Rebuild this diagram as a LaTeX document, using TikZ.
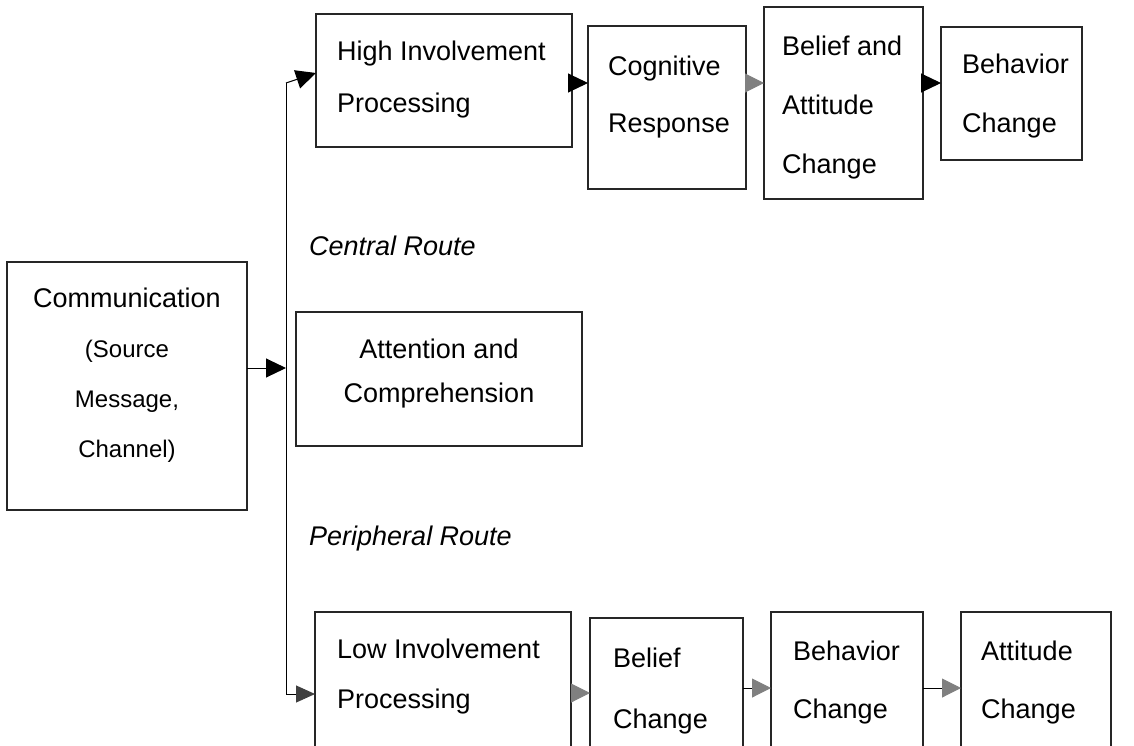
\documentclass[tikz,border=0pt]{standalone}
\usepackage{fontspec}
\setmainfont{Liberation Sans}
\usetikzlibrary{arrows.meta}

% Stacked lines with a fixed baseline distance; the baseline of the box is the first line's.
\newcommand\linesleft[2]{\vtop{\baselineskip=#1\lineskiplimit=-100pt\lineskip=0pt\halign{##\hfil\cr#2\crcr}}}
\newcommand\linescentre[2]{\vtop{\baselineskip=#1\lineskiplimit=-100pt\lineskip=0pt\halign{\hfil##\hfil\cr#2\crcr}}}

\tikzset{
  box/.style={draw=black!85, line width=1.2pt, inner sep=0pt, outer sep=0pt, anchor=north west},
  lbl/.style={inner sep=0pt, anchor=base west, font=\fontsize{27}{27}\selectfont},
  clbl/.style={inner sep=0pt, anchor=base, font=\fontsize{27}{27}\selectfont},
  conn/.style={draw=black, line width=1pt},
  darkhead/.style={-{Triangle[length=20pt,width=19pt,color=black]}},
  greyhead/.style={-{Triangle[length=19pt,width=19pt,color=black!50]}},
  smallhead/.style={-{Triangle[length=19pt,width=17pt,color=black!75]}},
}

\begin{document}
\begin{tikzpicture}[x=1pt,y=-1pt]
\useasboundingbox (0,0) rectangle (1134,745);
\clip (0,0) rectangle (1134,745);

% ---- boxes ----
\node[box, minimum width=240pt, minimum height=248pt] (comm) at (7,262) {};
\node[box, minimum width=286pt, minimum height=134pt] (att)  at (296,312) {};
\node[box, minimum width=256pt, minimum height=133pt] (high) at (316,14) {};
\node[box, minimum width=158pt, minimum height=163pt] (cog)  at (588,26) {};
\node[box, minimum width=159pt, minimum height=192pt] (bat)  at (764,7) {};
\node[box, minimum width=141pt, minimum height=133pt] (beh)  at (941,27) {};
\node[box, minimum width=256pt, minimum height=160pt] (low)  at (315,612) {};
\node[box, minimum width=153pt, minimum height=160pt] (bel)  at (590,618) {};
\node[box, minimum width=152pt, minimum height=160pt] (behb) at (771,612) {};
\node[box, minimum width=150pt, minimum height=160pt] (attb) at (961,612) {};

% ---- texts ----
\node[clbl] (commT) at (127,307) {\linescentre{50pt}{Communication\cr
  \fontsize{24}{24}\selectfont(Source\cr
  \fontsize{24}{24}\selectfont Message,\cr
  \fontsize{24}{24}\selectfont Channel)}};
\node[clbl] (attT) at (439,358) {\linescentre{44pt}{Attention and\cr Comprehension}};
\node[lbl] (highT) at (337,60)  {\linesleft{52pt}{High Involvement\cr Processing}};
\node[lbl] (cogT)  at (608,75)  {\linesleft{57pt}{Cognitive\cr Response}};
\node[lbl] (batT)  at (782,55)  {\linesleft{59pt}{Belief and\cr Attitude\cr Change}};
\node[lbl] (behT)  at (962,73)  {\linesleft{59pt}{Behavior\cr Change}};
\node[lbl] (lowT)  at (337,658) {\linesleft{50pt}{Low Involvement\cr Processing}};
\node[lbl] (belT)  at (613,667) {\linesleft{61pt}{Belief\cr Change}};
\node[lbl] (behbT) at (793,660) {\linesleft{58pt}{Behavior\cr Change}};
\node[lbl] (attbT) at (981,660) {\linesleft{58pt}{Attitude\cr Change}};
\node[lbl, font=\fontsize{27}{27}\selectfont\itshape] (central) at (309,255) {Central Route};
\node[lbl, font=\fontsize{27}{27}\selectfont\itshape] (periph)  at (309,545) {Peripheral Route};

% ---- connectors ----
\coordinate (split)    at (286,368);
\coordinate (trunkTop) at (286,83);
\coordinate (trunkBot) at (286,694);
\coordinate (highIn)   at (316,73);

\draw[conn, darkhead] (comm.east |- split) -- (split);
\draw[conn] (trunkTop) -- (trunkBot);
\draw[conn, darkhead] (trunkTop) -- (highIn);
\draw[conn, smallhead] (trunkBot) -- (low.west |- trunkBot);

\draw[conn, darkhead] (high.east |- 0,83) -- (cog.west |- 0,83);
\draw[conn, greyhead] (cog.east |- 0,83) -- (bat.west |- 0,83);
\draw[conn, darkhead] (bat.east |- 0,83) -- (beh.west |- 0,83);

\draw[conn, greyhead] (low.east |- 0,693) -- (bel.west |- 0,693);
\draw[conn, greyhead] (bel.east |- 0,688) -- (behb.west |- 0,688);
\draw[conn, greyhead] (behb.east |- 0,688) -- (attb.west |- 0,688);
\end{tikzpicture}
\end{document}
